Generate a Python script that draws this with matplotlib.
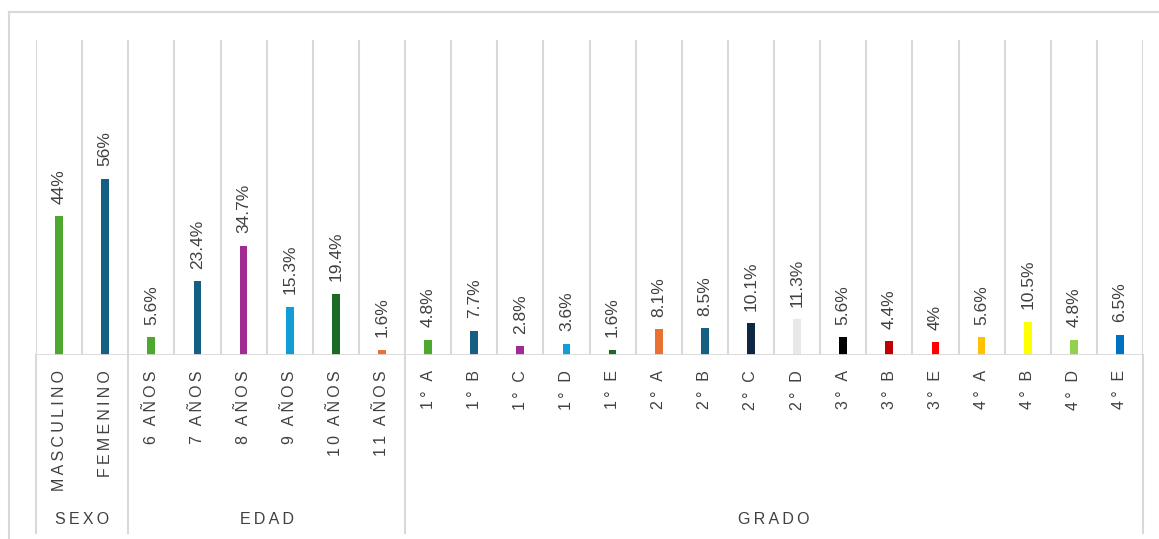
import matplotlib

matplotlib.use("Agg")
import matplotlib.pyplot as plt
from matplotlib.lines import Line2D
from matplotlib.transforms import blended_transform_factory

plt.rcParams["font.family"] = ["Liberation Sans", "DejaVu Sans"]

W, H = 1159, 539
GRID = "#d9d9d9"
TEXT = "#404040"

categories = [
    "MASCULINO", "FEMENINO",
    "6 AÑOS", "7 AÑOS", "8 AÑOS", "9 AÑOS", "10 AÑOS", "11 AÑOS",
    "1° A", "1° B", "1° C", "1° D", "1° E",
    "2° A", "2° B", "2° C", "2° D",
    "3° A", "3° B", "3° E",
    "4° A", "4° B", "4° D", "4° E",
]
values = [
    44, 56,
    5.6, 23.4, 34.7, 15.3, 19.4, 1.6,
    4.8, 7.7, 2.8, 3.6, 1.6,
    8.1, 8.5, 10.1, 11.3,
    5.6, 4.4, 4,
    5.6, 10.5, 4.8, 6.5,
]
colors = [
    "#4ea72e", "#156082",
    "#4ea72e", "#156082", "#a02b93", "#0f9ed5", "#196b24", "#e97132",
    "#4ea72e", "#156082", "#a02b93", "#0f9ed5", "#196b24",
    "#e97132", "#156082", "#0e2841", "#e8e8e8",
    "#000000", "#c00000", "#ff0000",
    "#ffc000", "#ffff00", "#92d050", "#0070c0",
]
groups = ["SEXO", "EDAD", "GRADO"]
group_sizes = [2, 6, 16]


def spaced(s):
    # fake the letter spacing of the original chart
    return "\u2009\u2009\u2009".join("\u2009".join(w) for w in s.split(" "))


def px(x, y):
    return x / W, 1 - y / H


fig = plt.figure(figsize=(W / 100, H / 100), dpi=100)
left, top = px(36, 40)
right, bottom = px(1143, 355)
ax = fig.add_axes([left, bottom, right - left, top - bottom])

xs = list(range(len(categories)))
ax.bar(xs, values, width=0.17, color=colors, zorder=3)
ax.set_xlim(-0.5, len(categories) - 0.5)
ax.set_ylim(0, 100)

for k in range(len(categories) + 1):
    ax.axvline(k - 0.5, color=GRID, lw=1.5, zorder=1)
ax.axhline(0, color=GRID, lw=2, zorder=4)

for x, v in zip(xs, values):
    ax.annotate(f"{v:g}%", (x, v), xytext=(0, 9), textcoords="offset points",
                rotation=90, ha="center", va="bottom", fontsize=12.5,
                color=TEXT, zorder=5)

ax.set_xticks(xs)
ax.set_xticklabels([spaced(c) for c in categories], rotation=90, va="top",
                   ha="center", fontsize=11.5, color=TEXT)
ax.tick_params(axis="x", length=0, pad=11)
ax.set_yticks([])
for sp in ax.spines.values():
    sp.set_visible(False)

# group separators and labels below the axis
trans = blended_transform_factory(ax.transData, fig.transFigure)
y_end = px(0, 533)[1]
start = 0
bounds = [-0.5]
for name, n in zip(groups, group_sizes):
    mid = start + (n - 1) / 2
    ax.text(mid, px(0, 520)[1], spaced(name), transform=trans, ha="center",
            va="center", fontsize=11.5, color=TEXT)
    start += n
    bounds.append(start - 0.5)
for b in bounds:
    ax.add_line(Line2D([b, b], [bottom, y_end], transform=trans, color=GRID,
                       lw=1.5, clip_on=False))

# outer frame (top and left edges visible)
fig.add_artist(Line2D([9 / W, 1], [1 - 12 / H] * 2, color=GRID, lw=1.5))
fig.add_artist(Line2D([9 / W] * 2, [1 - 12 / H, 0], color=GRID, lw=1.5))

fig.savefig("out.png", dpi=100, facecolor="white")
